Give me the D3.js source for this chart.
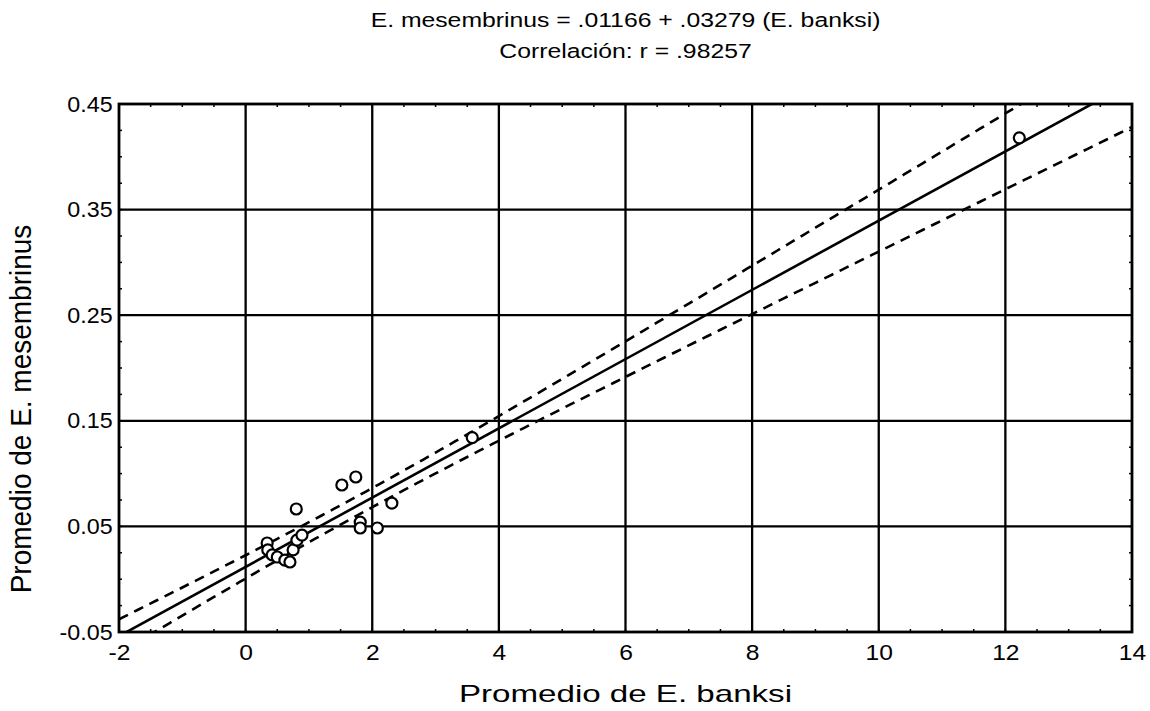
<!DOCTYPE html>
<html>
<head>
<meta charset="utf-8">
<script src="https://cdn.jsdelivr.net/npm/d3@7"></script>
<style>
  html, body { margin: 0; padding: 0; background: #fff; }
  svg { display: block; }
  text { font-family: Arial, "Liberation Sans", sans-serif; fill: #000; }
</style>
</head>
<body>
<svg id="chart" width="1150" height="711"></svg>
<script>
// ---- Data ----
const banksi = [12.22, 3.58, 2.31, 2.08, 1.81, 1.81, 1.74, 1.52, 0.80, 0.34, 0.35, 0.42, 0.50, 0.62, 0.70, 0.75, 0.81, 0.89];
const mesembrinus = [0.418, 0.134, 0.072, 0.0485, 0.054, 0.0485, 0.0968, 0.0892, 0.0665, 0.0343, 0.0277, 0.023, 0.021, 0.018, 0.0163, 0.0277, 0.037, 0.0418];
const intercept = 0.01166;
const slope = 0.03279;
const tCrit = 2.12; // 95% two-sided, n-2 df
const xTicks = [-2, 0, 2, 4, 6, 8, 10, 12, 14];
const xTickLabels = ["-2", "0", "2", "4", "6", "8", "10", "12", "14"];
const yTicks = [-0.05, 0.05, 0.15, 0.25, 0.35, 0.45];
const yTickLabels = ["-0.05", "0.05", "0.15", "0.25", "0.35", "0.45"];
const titleLines = ["E. mesembrinus = .01166 + .03279 (E. banksi)", "Correlación: r = .98257"];
const xTitle = "Promedio de E. banksi";
const yTitle = "Promedio de E. mesembrinus";

// ---- Layout ----
const svg = d3.select("#chart");
const m = { left: 119, right: 1132, top: 104, bottom: 632 };
const x = d3.scaleLinear().domain([-2, 14]).range([m.left, m.right]);
const y = d3.scaleLinear().domain([-0.05, 0.45]).range([m.bottom, m.top]);

svg.append("defs").append("clipPath").attr("id", "plotclip")
  .append("rect").attr("x", m.left).attr("y", m.top)
  .attr("width", m.right - m.left).attr("height", m.bottom - m.top);

// Titles (the reference is horizontally stretched, so text is scaled in x)
titleLines.forEach((t, i) => {
  svg.append("text")
    .attr("transform", `translate(${(m.left + m.right) / 2},${27 + i * 31}) scale(1.27,1)`)
    .attr("text-anchor", "middle").attr("font-size", 19.5).text(t);
});

// Grid lines (major)
const grid = svg.append("g");
grid.selectAll("line.vx").data(xTicks.slice(1, -1)).join("line")
  .attr("x1", d => x(d)).attr("x2", d => x(d))
  .attr("y1", m.top).attr("y2", m.bottom)
  .attr("stroke", "#000").attr("stroke-width", 2.3);
grid.selectAll("line.hy").data(yTicks.slice(1, -1)).join("line")
  .attr("x1", m.left).attr("x2", m.right)
  .attr("y1", d => y(d)).attr("y2", d => y(d))
  .attr("stroke", "#000").attr("stroke-width", 2.3);

// Minor inner ticks on all sides
const minorX = d3.range(-2, 14.001, 0.5);
const minorY = d3.range(-0.05, 0.4501, 0.025);
const tk = svg.append("g").attr("stroke", "#000").attr("stroke-width", 1.5);
minorX.forEach(v => {
  tk.append("line").attr("x1", x(v)).attr("x2", x(v)).attr("y1", m.bottom).attr("y2", m.bottom - 3);
  tk.append("line").attr("x1", x(v)).attr("x2", x(v)).attr("y1", m.top).attr("y2", m.top + 3);
});
minorY.forEach(v => {
  tk.append("line").attr("x1", m.left).attr("x2", m.left + 3).attr("y1", y(v)).attr("y2", y(v));
  tk.append("line").attr("x1", m.right).attr("x2", m.right - 3).attr("y1", y(v)).attr("y2", y(v));
});

// Axes (labels only, via d3 axis)
const xAxis = d3.axisBottom(x).tickValues(xTicks).tickSize(0).tickPadding(12)
  .tickFormat((d, i) => xTickLabels[i]);
const gx = svg.append("g").attr("transform", `translate(0,${m.bottom})`).call(xAxis);
gx.select(".domain").remove();
gx.selectAll("text").attr("font-size", 22).attr("transform", "scale(1.12,1)")
  .style("font-family", "Arial, 'Liberation Sans', sans-serif");

const yAxis = d3.axisLeft(y).tickValues(yTicks).tickSize(0).tickPadding(6)
  .tickFormat((d, i) => yTickLabels[i]);
const gy = svg.append("g").attr("transform", `translate(${m.left},0)`).call(yAxis);
gy.select(".domain").remove();
gy.selectAll("text").attr("font-size", 22).attr("transform", "scale(1.06,1)")
  .style("font-family", "Arial, 'Liberation Sans', sans-serif");

// Axis titles
svg.append("text").attr("transform", `translate(${(m.left + m.right) / 2},702) scale(1.38,1)`)
  .attr("text-anchor", "middle").attr("font-size", 24).text(xTitle);
svg.append("text").attr("transform", `translate(31,409) rotate(-90) scale(1.0,1.08)`)
  .attr("text-anchor", "middle").attr("font-size", 28).text(yTitle);

// Regression line and 95% confidence band computed from the data
const n = banksi.length;
const xbar = d3.mean(banksi);
const sxx = d3.sum(banksi, v => (v - xbar) ** 2);
const sse = d3.sum(banksi, (v, i) => (mesembrinus[i] - (intercept + slope * v)) ** 2);
const s = Math.sqrt(sse / (n - 2));
const xs = d3.range(-2, 14.0001, 0.1);
const hw = v => tCrit * s * Math.sqrt(1 / n + (v - xbar) ** 2 / sxx);

const plot = svg.append("g").attr("clip-path", "url(#plotclip)");
const line = d3.line().x(d => x(d[0])).y(d => y(d[1]));
plot.append("path").datum(xs.map(v => [v, intercept + slope * v + hw(v)]))
  .attr("d", line).attr("fill", "none").attr("stroke", "#000")
  .attr("stroke-width", 2.6).attr("stroke-dasharray", "10,7");
plot.append("path").datum(xs.map(v => [v, intercept + slope * v - hw(v)]))
  .attr("d", line).attr("fill", "none").attr("stroke", "#000")
  .attr("stroke-width", 2.6).attr("stroke-dasharray", "10,7");
plot.append("path").datum([[-2, intercept - 2 * slope], [14, intercept + 14 * slope]])
  .attr("d", line).attr("fill", "none").attr("stroke", "#000").attr("stroke-width", 2.6);

// Border
svg.append("rect").attr("x", m.left).attr("y", m.top)
  .attr("width", m.right - m.left).attr("height", m.bottom - m.top)
  .attr("fill", "none").attr("stroke", "#000").attr("stroke-width", 2.8);

// Points
svg.append("g").selectAll("circle").data(banksi).join("circle")
  .attr("cx", d => x(d)).attr("cy", (d, i) => y(mesembrinus[i]))
  .attr("r", 5.5).attr("fill", "#fff").attr("stroke", "#000").attr("stroke-width", 2.2);
</script>
</body>
</html>
